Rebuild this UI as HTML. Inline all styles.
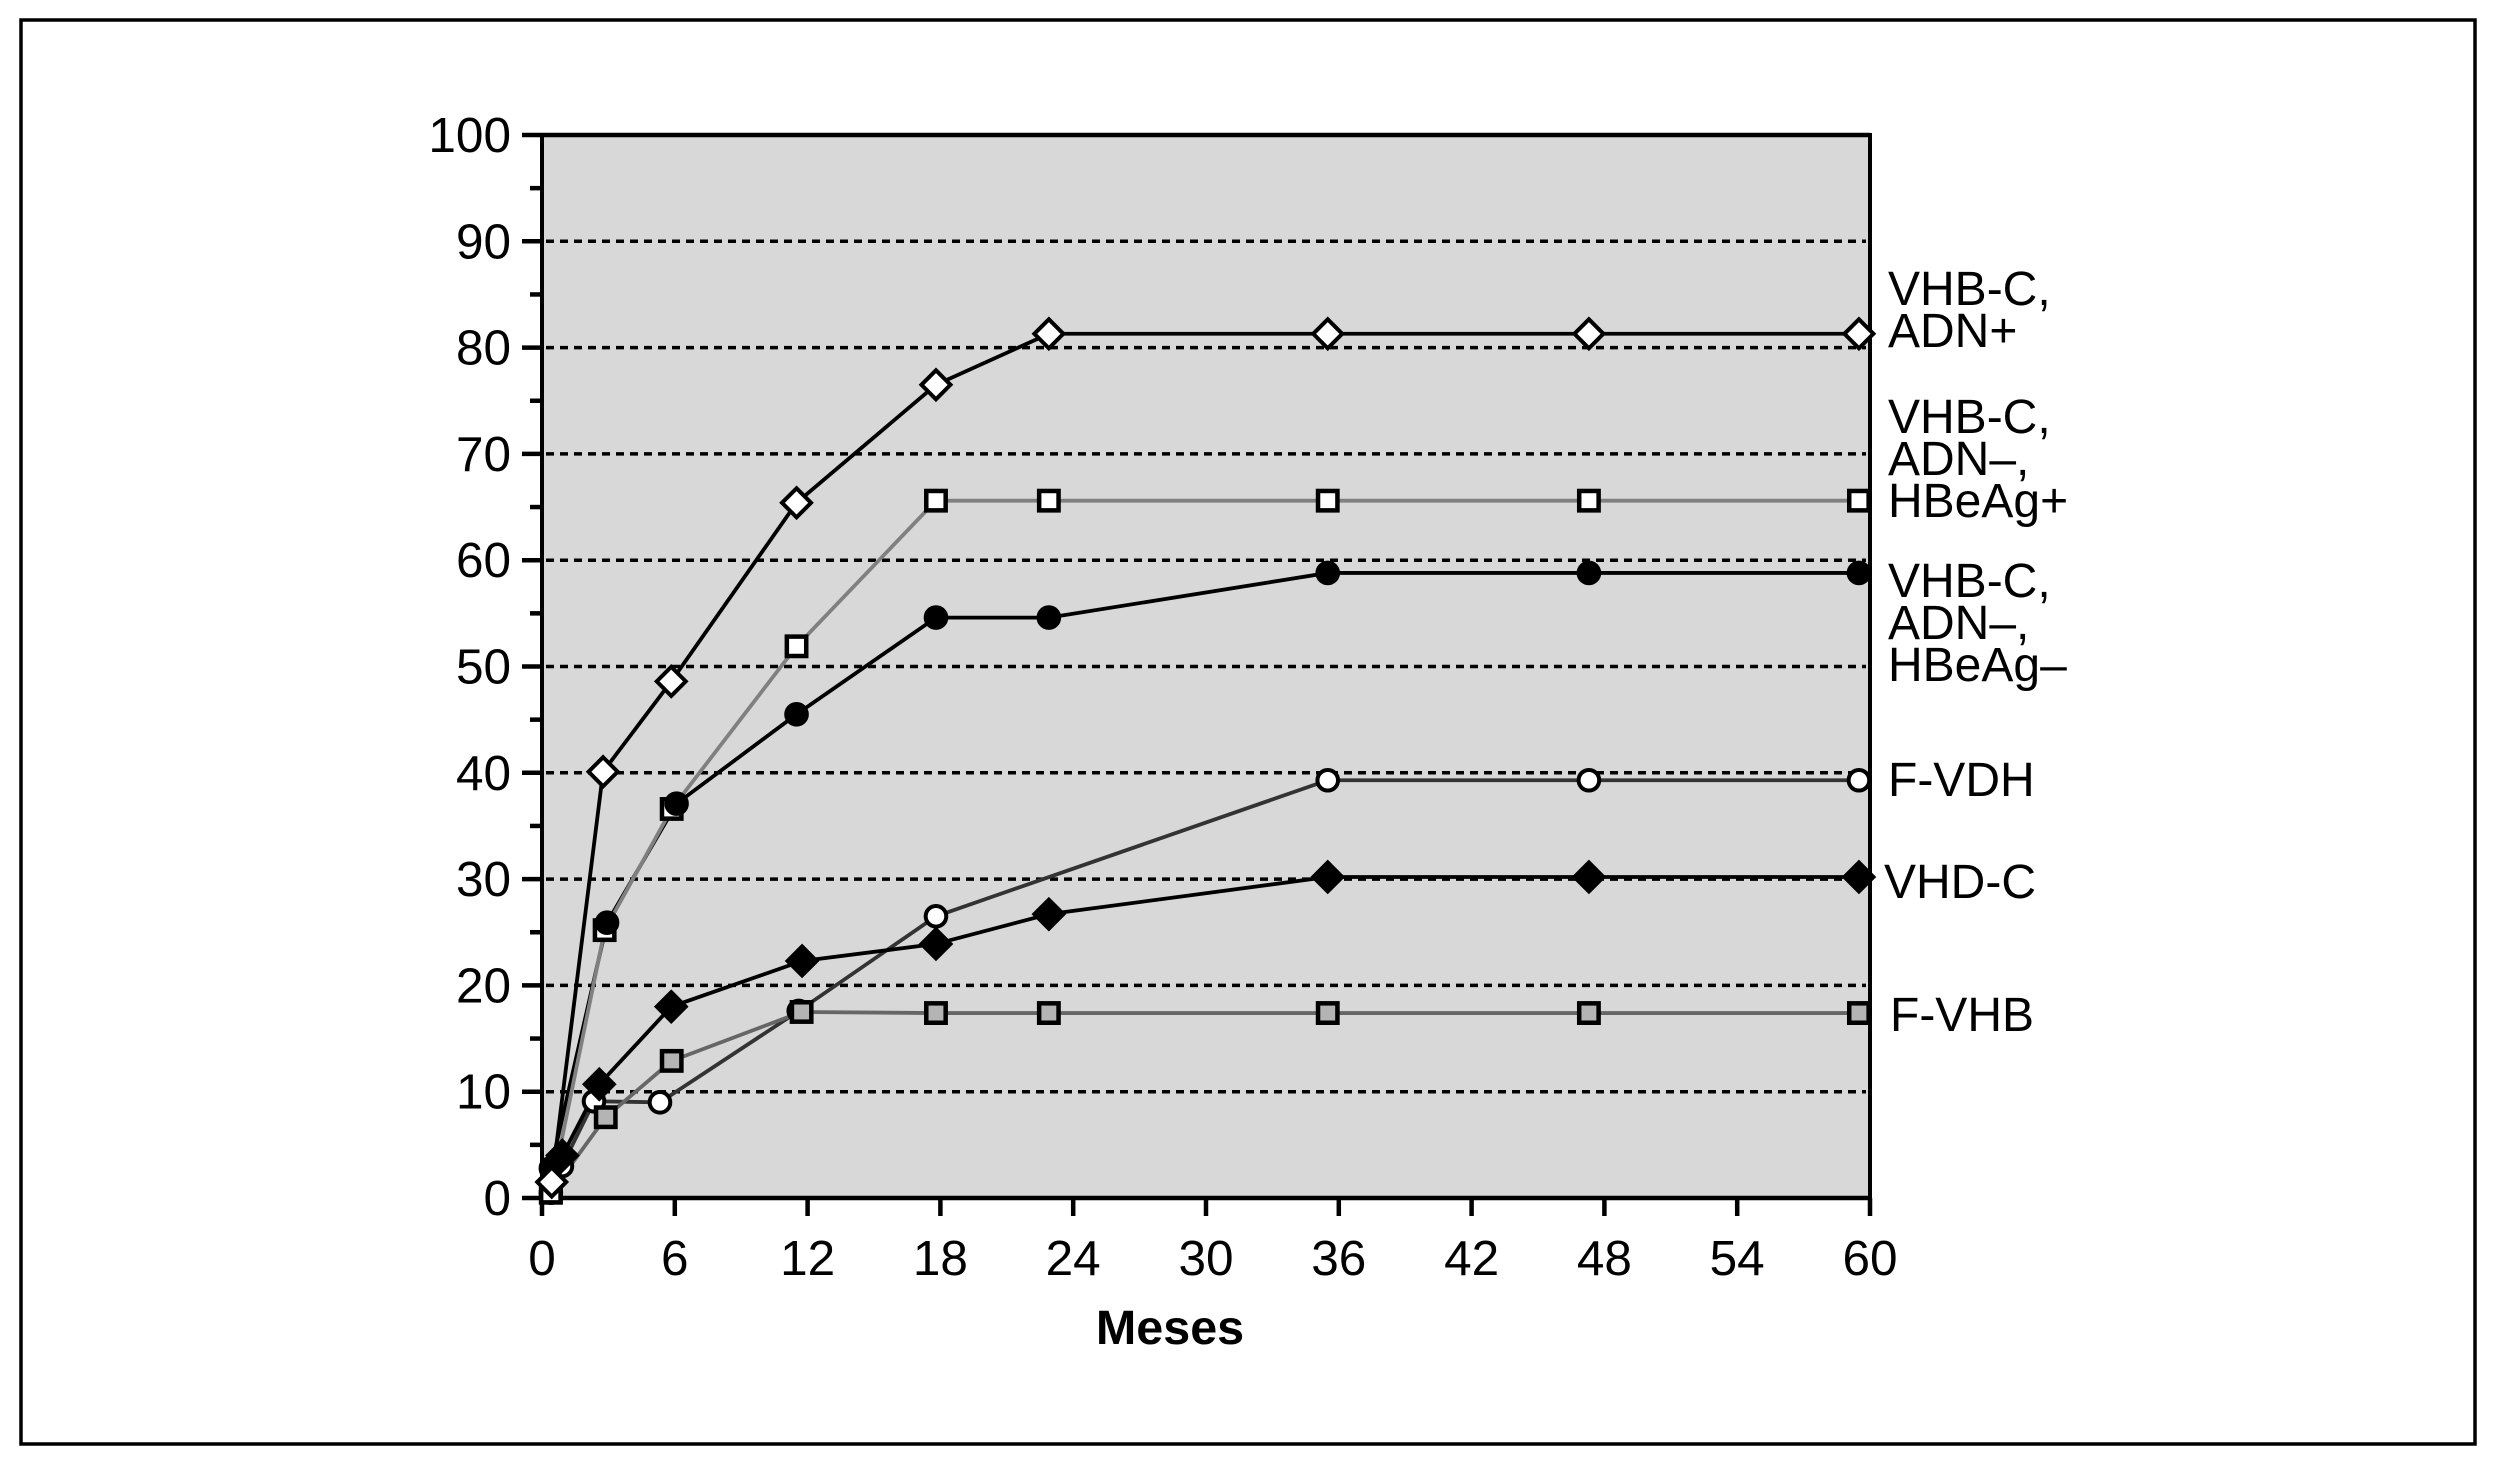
<!DOCTYPE html>
<html lang="es">
<head>
<meta charset="utf-8">
<title>Incidencia acumulada por meses</title>
<style>
html,body{margin:0;padding:0;background:#fff;width:2500px;height:1470px;overflow:hidden}
svg{display:block;font-family:"Liberation Sans",Arial,sans-serif}
text{fill:#000;font-size:48px}
text.tick{font-size:49.5px}
</style>
</head>
<body>
<svg id="chart" width="2500" height="1470" viewBox="0 0 2500 1470" xmlns="http://www.w3.org/2000/svg">
<rect width="2500" height="1470" fill="#fff"/>
<rect x="21" y="20" width="2454" height="1424" fill="none" stroke="#000" stroke-width="3.5"/>
<rect x="542" y="135" width="1328" height="1063" fill="#d8d8d8"/>
<g id="grid"></g>
<g id="axes"></g>
<g id="series-lines"></g>
<g id="series-markers"></g>
<text x="1170" y="1344" text-anchor="middle" font-weight="bold" style="font-size:48.5px">Meses</text>
<g>
<text><tspan x="1888" y="305">VHB-C,</tspan><tspan x="1888" y="347">ADN+</tspan></text>
<text><tspan x="1888" y="433">VHB-C,</tspan><tspan x="1888" y="475">ADN–,</tspan><tspan x="1888" y="517">HBeAg+</tspan></text>
<text><tspan x="1888" y="597">VHB-C,</tspan><tspan x="1888" y="639">ADN–,</tspan><tspan x="1888" y="681">HBeAg–</tspan></text>
<text x="1888" y="796">F-VDH</text>
<text x="1884" y="898">VHD-C</text>
<text x="1890" y="1031">F-VHB</text>
</g>
</svg>
<script>
const xTickLabels = [0, 6, 12, 18, 24, 30, 36, 42, 48, 54, 60];
const yTickLabels = [0, 10, 20, 30, 40, 50, 60, 70, 80, 90, 100];
const yMinorTicks = [5, 15, 25, 35, 45, 55, 65, 75, 85, 95];

const fvdhMonths = [0.4, 0.9, 2.35, 5.33, 11.6, 17.8, 35.5, 47.3, 59.5];
const fvdhValues = [0.5, 3, 9.1, 9, 17.6, 26.5, 39.3, 39.3, 39.3];
const fvhbMonths = [0.4, 2.88, 5.86, 11.73, 17.8, 22.9, 35.5, 47.3, 59.5];
const fvhbValues = [0.5, 7.6, 12.9, 17.5, 17.4, 17.4, 17.4, 17.4, 17.4];
const hbeagPosMonths = [0.4, 2.83, 5.86, 11.5, 17.8, 22.9, 35.5, 47.3, 59.5];
const hbeagPosValues = [0.5, 25.2, 36.6, 51.9, 65.6, 65.6, 65.6, 65.6, 65.6];
const hbeagNegMonths = [0.4, 2.94, 6.08, 11.5, 17.8, 22.9, 35.5, 47.3, 59.5];
const hbeagNegValues = [2.8, 25.9, 37.1, 45.5, 54.6, 54.6, 58.8, 58.8, 58.8];
const vhdcMonths = [0.92, 2.59, 5.84, 11.75, 17.8, 22.9, 35.5, 47.3, 59.5];
const vhdcValues = [4, 10.7, 18, 22.3, 23.9, 26.7, 30.2, 30.2, 30.2];
const adnPosMonths = [0.44, 2.76, 5.84, 11.5, 17.8, 22.9, 35.5, 47.3, 59.5];
const adnPosValues = [1.5, 40.1, 48.6, 65.4, 76.5, 81.3, 81.3, 81.3, 81.3];

const NS = 'http://www.w3.org/2000/svg';
function xScale(m) { return 542 + (1870 - 542) * m / 60; }
function yScale(v) { return 1198 - (1198 - 135) * v / 100; }
function make(parent, tag, attrs, text) {
  const el = document.createElementNS(NS, tag);
  for (const k in attrs) el.setAttribute(k, attrs[k]);
  if (text !== undefined) el.textContent = text;
  parent.appendChild(el);
  return el;
}

const grid = document.getElementById('grid');
yTickLabels.forEach(function (v) {
  if (v === 0 || v === 100) return;
  const g = make(grid, 'line', { x1: 546, x2: 1866, y1: yScale(v), y2: yScale(v), stroke: '#000', 'stroke-width': 3.5, 'stroke-dasharray': '8 6' });
  
  
});

const axes = document.getElementById('axes');
const frameLines = [
  [542, 133, 542, 1200, 4, 'y-axis-line'],
  [1870, 133, 1870, 1200, 4, 'right-axis-line'],
  [542, 135, 1870, 135, 4.5, 'top-axis-line'],
  [542, 1198, 1870, 1198, 4.5, 'x-axis-line']
];
frameLines.forEach(function (f) {
  const l = make(axes, 'line', { x1: f[0], y1: f[1], x2: f[2], y2: f[3], stroke: '#000', 'stroke-width': f[4] });
  
  
});
xTickLabels.forEach(function (m) {
  const t = make(axes, 'line', { x1: xScale(m), x2: xScale(m), y1: 1198, y2: 1216, stroke: '#000', 'stroke-width': 4.5 });
  
  
  const l = make(axes, 'text', { x: xScale(m), y: 1275, 'text-anchor': 'middle', class: 'tick' }, m);
  
  
});
yTickLabels.forEach(function (v) {
  const t = make(axes, 'line', { x1: 522, x2: 542, y1: yScale(v), y2: yScale(v), stroke: '#000', 'stroke-width': 4.5 });
  
  
  const l = make(axes, 'text', { x: 511, y: yScale(v) + 17, 'text-anchor': 'end', class: 'tick' }, v);
  
  
});
yMinorTicks.forEach(function (v) {
  const t = make(axes, 'line', { x1: 530, x2: 542, y1: yScale(v), y2: yScale(v), stroke: '#000', 'stroke-width': 4.5 });
  
  
});

function marker(parent, kind, x, y, fill) {
  if (kind === 'circle') {
    return make(parent, 'circle', { cx: x, cy: y, r: 10.3, fill: fill, stroke: '#000', 'stroke-width': 4 });
  }
  if (kind === 'square') {
    return make(parent, 'rect', { x: x - 9.7, y: y - 9.7, width: 19.4, height: 19.4, fill: fill, stroke: '#000', 'stroke-width': 4.5 });
  }
  const r = 14.5;
  return make(parent, 'polygon', { points: [x, y - r, x + r, y, x, y + r, x - r, y].join(' '), fill: fill, stroke: '#000', 'stroke-width': 4, 'stroke-linejoin': 'miter' });
}

function drawLine(name, months, values, lineColor) {
  const root = document.getElementById('series-lines');
  const pts = months.map(function (m, i) { return xScale(m) + ',' + yScale(values[i]); }).join(' ');
  const line = make(root, 'polyline', { points: pts, fill: 'none', stroke: lineColor, 'stroke-width': 3.8 });
  
  
}
function drawMarkers(name, months, values, kind, fill) {
  const root = document.getElementById('series-markers');
  const g = make(root, 'g', {});
  
  
  months.forEach(function (m, i) {
    const mk = marker(g, kind, xScale(m), yScale(values[i]), fill);
    
    
  });
}

drawLine('vhb-c-adn-neg-hbeag-neg', hbeagNegMonths, hbeagNegValues, '#000000');
drawLine('vhb-c-adn-neg-hbeag-pos', hbeagPosMonths, hbeagPosValues, '#808080');
drawLine('f-vdh', fvdhMonths, fvdhValues, '#333333');
drawLine('f-vhb', fvhbMonths, fvhbValues, '#666666');
drawLine('vhd-c', vhdcMonths, vhdcValues, '#000000');
drawLine('vhb-c-adn-pos', adnPosMonths, adnPosValues, '#000000');

drawMarkers('f-vdh', fvdhMonths, fvdhValues, 'circle', '#ffffff');
drawMarkers('f-vhb', fvhbMonths, fvhbValues, 'square', '#b4b4b4');
drawMarkers('vhb-c-adn-neg-hbeag-pos', hbeagPosMonths, hbeagPosValues, 'square', '#ffffff');
drawMarkers('vhb-c-adn-neg-hbeag-neg', hbeagNegMonths, hbeagNegValues, 'circle', '#000000');
drawMarkers('vhd-c', vhdcMonths, vhdcValues, 'diamond', '#000000');
drawMarkers('vhb-c-adn-pos', adnPosMonths, adnPosValues, 'diamond', '#ffffff');
</script>
</body>
</html>
